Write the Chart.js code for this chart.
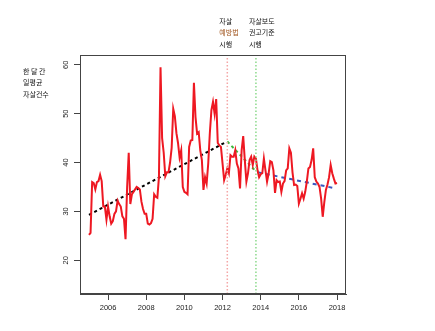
<!DOCTYPE html>
<html>
<head>
<meta charset="utf-8">
<script src="https://cdn.jsdelivr.net/npm/chart.js@4/dist/chart.umd.min.js"></script>
<style>
html,body{margin:0;padding:0;background:#fff;}
canvas{display:block;}
</style>
</head>
<body>
<canvas id="c" width="435" height="331"></canvas>
<script>
// ---- data ----
const startYear = 2005; // monthly series starting January 2005
const dailyAvgSuicides = [
25.2,25.6,36,35.8,34.5,36,36.2,37.5,36.2,31,31,28.3,
31,29,27.5,28,29.5,30,32.2,31.5,31,29,28.5,24.3,
35,42,31.5,33.5,34,34.5,35,34.8,34.5,32,30.5,29.5,
29.5,27.5,27.3,27.6,28.5,33.5,33,32.8,37,59.5,45,42,
37.2,38,38,40,43,51,49.5,46,44,41,42.5,35,
34,33.8,33.5,43.2,44.5,44.6,56.3,49.3,45.9,46.2,42.5,40.5,
34.4,37,35.7,39.8,46,50.7,52.4,50,53,44,43.5,43.2,
39.8,36.4,37.5,38.8,37.8,41.5,41.2,41.2,42.5,39.8,38.8,34.7,
42.5,45.4,40.5,36.1,37.8,40.5,41.2,39.5,41.2,40.8,38.4,37,
37.6,37.8,40.8,38.4,36.1,37.8,40.3,40.1,38.4,33.8,36.4,36,
36.1,34,35.7,36.2,38.4,38.8,42.9,42,38,35.4,35.5,35.2,
31.6,32.6,33.7,32.6,34,36.1,38.8,39.1,40.5,42.9,37,36.1,
35.7,35,32.6,28.9,31.9,34.4,35.5,37,39.5,37.8,36.7,35.7,
35.8
];
// trend segments [year, value]
const trendBefore = [[2005.0, 29.3], [2012.14, 44.1]];
const trendMiddle = [[2012.25, 44.3], [2013.77, 38.1]];
const trendAfter  = [[2013.85, 38.0], [2017.81, 34.8]];
// policy dates (vertical lines)
const policyPrevention = 2012.25;
const policyReporting = 2013.75;
const xTicks = [2006, 2008, 2010, 2012, 2014, 2016, 2018];
const yTicks = [20, 30, 40, 50, 60];
const xRange = [2004.53, 2018.47];
const yRange = [13.1, 62.0];
const yLabelLines = ['한 달 간', '일평균', '자살건수'];
const policyALines = ['자살', '예방법', '시행'];
const policyBLines = ['자살보도', '권고기준', '시행'];

// ---- build ----
const series = dailyAvgSuicides.map((v, i) => ({x: startYear + i / 12, y: v}));
const seg = s => s.map(p => ({x: p[0], y: p[1]}));
const vline = yr => [{x: yr, y: yRange[0]}, {x: yr, y: yRange[1]}];

const annot = {
  id: 'annot',
  afterDraw(chart) {
    const ctx = chart.ctx, a = chart.chartArea;
    const xs = chart.scales.x;
    ctx.save();
    // frame
    ctx.strokeStyle = '#444';
    ctx.lineWidth = 1;
    ctx.strokeRect(a.left + 0.5, a.top + 0.5, a.right - a.left - 1, a.bottom - a.top - 1);
    ctx.font = '7px "Noto Sans CJK KR"';
    ctx.textBaseline = 'middle';
    ctx.textAlign = 'left';
    ctx.fillStyle = '#111';
    yLabelLines.forEach((t, i) => ctx.fillText(t, a.left - 57, a.top + 16 + i * 11.5));
    const xa = xs.getPixelForValue(policyPrevention) - 8;
    const xb = xs.getPixelForValue(policyReporting) - 7;
    policyALines.forEach((t, i) => {
      ctx.fillStyle = i === 1 ? '#a0541c' : '#111';
      ctx.fillText(t, xa, a.top - 34 + i * 11.5);
    });
    ctx.fillStyle = '#111';
    policyBLines.forEach((t, i) => ctx.fillText(t, xb, a.top - 34 + i * 11.5));
    ctx.restore();
  }
};

new Chart(document.getElementById('c'), {
  type: 'line',
  data: {
    datasets: [
      {data: vline(policyPrevention), borderColor: '#f4a6a6', borderWidth: 1.5, borderDash: [1.5, 2], pointRadius: 0},
      {data: vline(policyReporting), borderColor: '#8cd98c', borderWidth: 1.5, borderDash: [1.5, 2], pointRadius: 0},
      {data: series, borderColor: '#ee1822', borderWidth: 2, pointRadius: 0, tension: 0},
      {data: seg(trendBefore), borderColor: '#000', borderWidth: 2, borderDash: [3, 3], pointRadius: 0},
      {data: seg(trendMiddle), borderColor: '#3cb83c', borderWidth: 2, borderDash: [3, 3], pointRadius: 0},
      {data: seg(trendAfter), borderColor: '#3a56c0', borderWidth: 2, borderDash: [4, 4], pointRadius: 0}
    ]
  },
  options: {
    responsive: false,
    animation: false,
    layout: {padding: {top: 55, right: 89, left: 0, bottom: 0}},
    plugins: {legend: {display: false}, tooltip: {enabled: false}},
    scales: {
      x: {
        type: 'linear', min: xRange[0], max: xRange[1],
        afterBuildTicks: s => { s.ticks = xTicks.map(v => ({value: v})); },
        afterFit: s => { s.height = 37; },
        grid: {display: true, drawOnChartArea: false, drawTicks: true, tickLength: 6, color: '#444'},
        border: {display: true, color: '#444', width: 1},
        ticks: {autoSkip: false, maxRotation: 0, padding: 3, color: '#222',
                font: {family: '"Liberation Sans", Arial', size: 7.5},
                callback: v => String(v)}
      },
      y: {
        type: 'linear', min: yRange[0], max: yRange[1],
        afterBuildTicks: s => { s.ticks = yTicks.map(v => ({value: v})); },
        afterFit: s => { s.width = 80; },
        grid: {display: true, drawOnChartArea: false, drawTicks: true, tickLength: 6, color: '#444'},
        border: {display: true, color: '#444', width: 1},
        ticks: {autoSkip: false, minRotation: 90, maxRotation: 90, crossAlign: 'center', padding: 4, color: '#222',
                font: {family: '"Liberation Sans", Arial', size: 7.5},
                callback: v => String(v)}
      }
    }
  },
  plugins: [annot]
});
</script>
</body>
</html>
